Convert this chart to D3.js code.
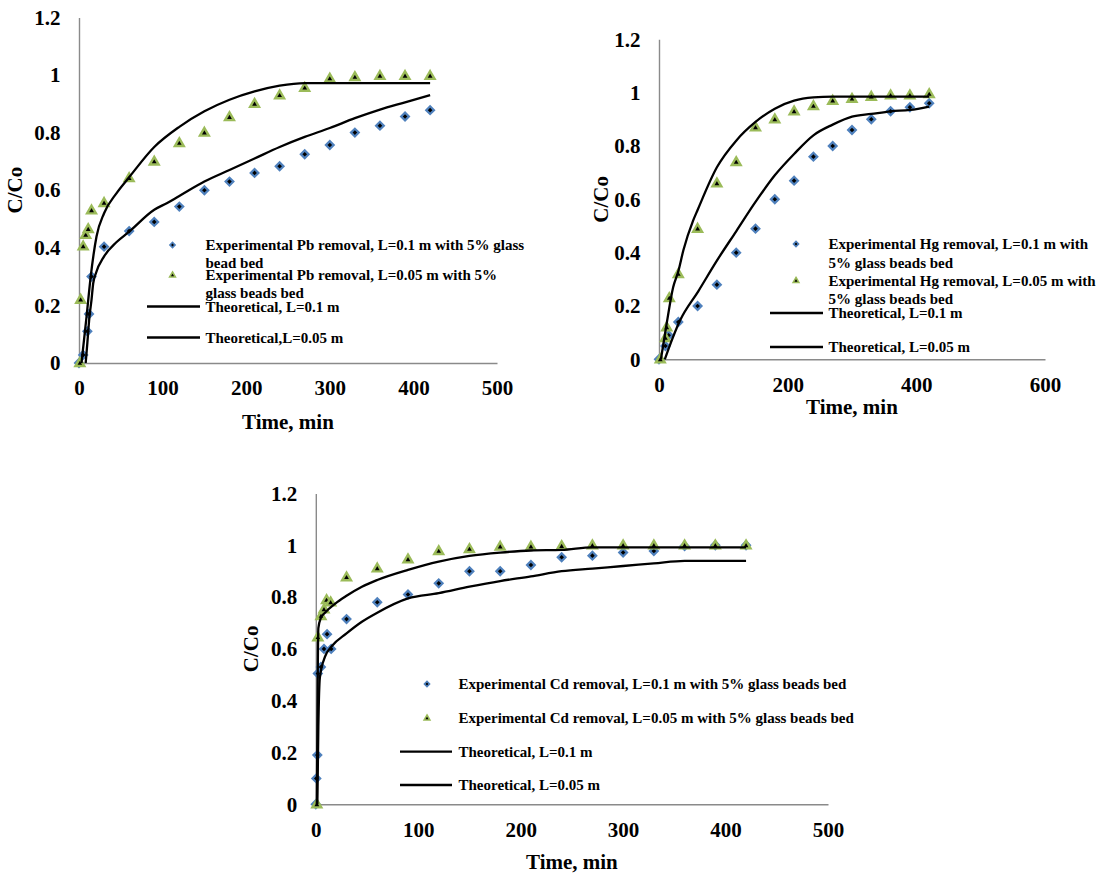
<!DOCTYPE html>
<html>
<head>
<meta charset="utf-8">
<script src="https://cdn.jsdelivr.net/npm/d3@7"></script>
<style>
  body { margin: 0; background: #fff; }
  svg text { font-family: "Liberation Serif", "Times New Roman", serif; font-weight: bold; fill: #000; }
</style>
</head>
<body>
<div id="chart"></div>
<script>
// ---- tick labels ----
var yTickValues = [0, 0.2, 0.4, 0.6, 0.8, 1, 1.2];
var yTickLabels = ["0", "0.2", "0.4", "0.6", "0.8", "1", "1.2"];
var xTicks500 = [0, 100, 200, 300, 400, 500];
var xTicks600 = [0, 200, 400, 600];

// ---- Pb ----
var pbTimeA = [0, 5, 10, 12, 15, 30, 60, 90, 120, 150, 180, 210, 240, 270, 300, 330, 360, 390, 420];
var pbExpA = [0, 0.028, 0.11, 0.17, 0.30, 0.404, 0.458, 0.49, 0.543, 0.60, 0.63, 0.66, 0.683, 0.725, 0.757, 0.80, 0.824, 0.856, 0.878];
var pbTimeB = [1, 2, 5, 8, 11, 15, 30, 60, 90, 120, 150, 180, 210, 240, 270, 300, 330, 360, 390, 420];
var pbExpB = [0, 0.22, 0.405, 0.445, 0.465, 0.53, 0.556, 0.642, 0.70, 0.764, 0.80, 0.854, 0.90, 0.93, 0.956, 0.988, 0.993, 0.997, 0.997, 0.997];
var pbTheoTimeA = [8, 10, 12.5, 15, 17, 20, 30, 45, 60, 90, 105, 120, 150, 180, 210, 240, 270, 300, 330, 360, 390, 420];
var pbTheoA = [0, 0.07, 0.16, 0.22, 0.277, 0.31, 0.37, 0.42, 0.456, 0.532, 0.555, 0.58, 0.63, 0.67, 0.71, 0.75, 0.785, 0.816, 0.85, 0.88, 0.905, 0.93];
var pbTheoTimeB = [3, 9, 14, 21, 30, 45, 60, 90, 120, 150, 180, 210, 240, 270, 300, 420];
var pbTheoB = [0, 0.16, 0.30, 0.44, 0.52, 0.59, 0.645, 0.75, 0.82, 0.874, 0.914, 0.943, 0.963, 0.972, 0.972, 0.972];

// ---- Hg ----
var hgTimeA = [0, 10, 15, 30, 60, 90, 120, 150, 180, 210, 240, 270, 300, 330, 360, 390, 420];
var hgExpA = [0, 0.05, 0.09, 0.14, 0.20, 0.28, 0.40, 0.49, 0.60, 0.67, 0.76, 0.80, 0.86, 0.90, 0.93, 0.945, 0.96];
var hgTimeB = [2, 10, 12, 16, 30, 60, 90, 120, 150, 180, 210, 240, 270, 300, 330, 360, 390, 420];
var hgExpB = [0, 0.08, 0.12, 0.23, 0.32, 0.49, 0.66, 0.74, 0.87, 0.90, 0.93, 0.95, 0.97, 0.977, 0.985, 0.99, 0.99, 0.995];
var hgTheoTimeA = [9, 15, 33, 61, 90, 120, 150, 180, 210, 240, 270, 300, 330, 360, 390, 420];
var hgTheoA = [0, 0.04, 0.147, 0.255, 0.37, 0.48, 0.59, 0.69, 0.77, 0.84, 0.88, 0.91, 0.92, 0.93, 0.935, 0.948];
var hgTheoTimeB = [3, 12, 22, 30, 38, 53, 60, 90, 120, 150, 180, 210, 240, 270, 420];
var hgTheoB = [0, 0.135, 0.27, 0.33, 0.41, 0.52, 0.56, 0.72, 0.82, 0.89, 0.94, 0.97, 0.982, 0.985, 0.985];

// ---- Cd ----
var cdTimeA = [0, 0.5, 1.5, 2, 5, 8, 11, 15, 30, 60, 90, 120, 150, 180, 210, 240, 270, 300, 330, 360, 390, 420];
var cdExpA = [0, 0.10, 0.19, 0.505, 0.53, 0.60, 0.657, 0.60, 0.715, 0.78, 0.81, 0.853, 0.90, 0.90, 0.924, 0.954, 0.96, 0.972, 0.978, 0.997, 1.0, 1.0];
var cdTimeB = [1, 2, 5, 8, 10.5, 14.5, 30, 60, 90, 120, 150, 180, 210, 240, 270, 300, 330, 360, 390, 420];
var cdExpB = [0, 0.645, 0.727, 0.753, 0.789, 0.78, 0.877, 0.911, 0.946, 0.978, 0.986, 0.995, 0.995, 0.997, 1.0, 1.0, 1.0, 1.0, 1.0, 1.0];
var cdTheoTimeA = [1.5, 2.5, 4, 9, 15.5, 30, 45, 60, 90, 120, 150, 180, 210, 240, 270, 300, 330, 360, 420];
var cdTheoA = [0, 0.3, 0.49, 0.57, 0.61, 0.66, 0.705, 0.74, 0.795, 0.815, 0.84, 0.862, 0.88, 0.90, 0.91, 0.92, 0.93, 0.94, 0.94];
var cdTheoTimeB = [1, 2, 2.5, 5, 9, 19, 30, 45, 60, 90, 120, 150, 180, 210, 240, 270, 420];
var cdTheoB = [0, 0.55, 0.68, 0.72, 0.74, 0.775, 0.805, 0.84, 0.866, 0.905, 0.937, 0.959, 0.972, 0.98, 0.982, 0.992, 0.992];

// legend labels (already wrapped the way the figure wraps them)
var pbLegend = [["Experimental Pb removal, L=0.1 m with 5% glass", "bead bed"],
    ["Experimental Pb removal, L=0.05 m with 5%", "glass beads bed"],
    ["Theoretical, L=0.1 m"], ["Theoretical,L=0.05 m"]];
var hgLegend = [["Experimental Hg removal, L=0.1 m with", "5% glass beads bed"],
    ["Experimental Hg removal, L=0.05 m with", "5% glass beads bed"],
    ["Theoretical, L=0.1 m"], ["Theoretical, L=0.05 m"]];
var cdLegend = [["Experimental Cd removal, L=0.1 m with 5% glass beads bed"],
    ["Experimental Cd removal, L=0.05 m with 5% glass beads bed"],
    ["Theoretical, L=0.1 m"], ["Theoretical, L=0.05 m"]];

var axisColor = "#8a8a8a";
var blue = "#4f81bd";
var green = "#9bbb59";

var svg = d3.select("#chart")
    .append("svg")
    .attr("width", 1119)
    .attr("height", 876);

svg.append("rect").attr("width", 1119).attr("height", 876).attr("fill", "#fff");

function zip(t, v) {
    return t.map((d, i) => [d, v[i]]);
}

var diamond = d3.symbol().type(d3.symbolSquare);
var triangle = d3.symbol().type(d3.symbolTriangle);

function drawMarker(g, kind, cx, cy, big) {
    if (kind === "diamond") {
        g.append("path")
            .attr("d", diamond.size(big ? 30 : 13)())
            .attr("transform", `translate(${cx},${cy}) rotate(45)`)
            .attr("fill", "#000")
            .attr("stroke", blue)
            .attr("stroke-width", big ? 2.2 : 1.6);
    } else {
        g.append("path")
            .attr("d", triangle.size(big ? 34 : 14)())
            .attr("transform", `translate(${cx},${cy + (big ? 0.5 : 0.3)})`)
            .attr("fill", "#000")
            .attr("stroke", green)
            .attr("stroke-width", big ? 2.4 : 1.6)
            .attr("stroke-linejoin", "miter");
    }
}

function drawPanel(p) {
    var g = svg.append("g");

    var x = d3.scaleLinear().domain([0, p.xMax]).range([p.left, p.right]);
    var y = d3.scaleLinear().domain([0, 1.2]).range([p.bottom, p.top]);

    // axes
    var bottomAxis = d3.axisBottom(x)
        .tickValues(p.xTicks)
        .tickSize(0)
        .tickSizeOuter(0)
        .tickPadding(17.5);
    var leftAxis = d3.axisLeft(y)
        .tickValues(yTickValues)
        .tickFormat((d, i) => yTickLabels[i])
        .tickSize(0)
        .tickSizeOuter(0)
        .tickPadding(18.5);

    var xg = g.append("g")
        .attr("transform", `translate(0,${p.bottom})`)
        .call(bottomAxis);
    var yg = g.append("g")
        .attr("transform", `translate(${p.left},0)`)
        .call(leftAxis);

    [xg, yg].forEach(function (a) {
        a.select(".domain").attr("stroke", axisColor).attr("stroke-width", 1.4);
        a.selectAll("text").attr("font-size", 21);
    });

    // axis titles
    g.append("text")
        .attr("x", (p.left + p.right) / 2)
        .attr("y", p.titleY)
        .attr("dy", "0.35em")
        .attr("text-anchor", "middle")
        .attr("font-size", 21)
        .text("Time, min");

    g.append("text")
        .attr("transform", `translate(${p.yTitleX},${(p.top + p.bottom) / 2}) rotate(-90)`)
        .attr("dy", "0.35em")
        .attr("text-anchor", "middle")
        .attr("font-size", 21)
        .text("C/Co");

    // experimental points
    zip(p.tA, p.vA).forEach(d => drawMarker(g, "diamond", x(d[0]), y(d[1]), true));
    zip(p.tB, p.vB).forEach(d => drawMarker(g, "triangle", x(d[0]), y(d[1]), true));

    // theoretical curves
    var line = d3.line()
        .x(d => x(d[0]))
        .y(d => y(d[1]))
        .curve(d3.curveMonotoneX);

    [zip(p.thTA, p.thA), zip(p.thTB, p.thB)].forEach(function (pts) {
        g.append("path")
            .datum(pts)
            .attr("d", line)
            .attr("fill", "none")
            .attr("stroke", "#000")
            .attr("stroke-width", 2.3)
            .attr("stroke-linejoin", "round");
    });

    // legend
    var L = p.legend;
    var lg = g.append("g");
    L.rows.forEach(function (row, i) {
        var cy = L.ys[i];
        if (i === 0) drawMarker(lg, "diamond", L.markerX, cy, false);
        else if (i === 1) drawMarker(lg, "triangle", L.markerX, cy, false);
        else {
            lg.append("line")
                .attr("x1", L.lineX1).attr("x2", L.lineX2)
                .attr("y1", cy).attr("y2", cy)
                .attr("stroke", "#000")
                .attr("stroke-width", 2.3);
        }
        row.forEach(function (txt, j) {
            lg.append("text")
                .attr("x", L.textX)
                .attr("y", cy + j * L.wrap)
                .attr("dy", "0.35em")
                .attr("font-size", 15)
                .text(txt);
        });
    });
}

drawPanel({
    left: 79, right: 497, top: 17.4, bottom: 363, xMax: 500, xTicks: xTicks500,
    titleY: 421.5, yTitleX: 15,
    tA: pbTimeA, vA: pbExpA, tB: pbTimeB, vB: pbExpB,
    thTA: pbTheoTimeA, thA: pbTheoA, thTB: pbTheoTimeB, thB: pbTheoB,
    legend: { rows: pbLegend, ys: [245, 275, 306.5, 337.5], wrap: 18,
        markerX: 172.5, textX: 205.5, lineX1: 147, lineX2: 200 }
});

drawPanel({
    left: 659, right: 1045, top: 39.3, bottom: 359.3, xMax: 600, xTicks: xTicks600,
    titleY: 406.5, yTitleX: 601,
    tA: hgTimeA, vA: hgExpA, tB: hgTimeB, vB: hgExpB,
    thTA: hgTheoTimeA, thA: hgTheoA, thTB: hgTheoTimeB, thB: hgTheoB,
    legend: { rows: hgLegend, ys: [244, 280.5, 313, 347], wrap: 18.5,
        markerX: 796, textX: 828.5, lineX1: 770, lineX2: 823 }
});

drawPanel({
    left: 315.8, right: 828, top: 493.5, bottom: 804.3, xMax: 500, xTicks: xTicks500,
    titleY: 861.5, yTitleX: 250.5,
    tA: cdTimeA, vA: cdExpA, tB: cdTimeB, vB: cdExpB,
    thTA: cdTheoTimeA, thA: cdTheoA, thTB: cdTheoTimeB, thB: cdTheoB,
    legend: { rows: cdLegend, ys: [684, 718, 751.7, 785], wrap: 18,
        markerX: 427, textX: 458.5, lineX1: 400, lineX2: 452 }
});
</script>
</body>
</html>
